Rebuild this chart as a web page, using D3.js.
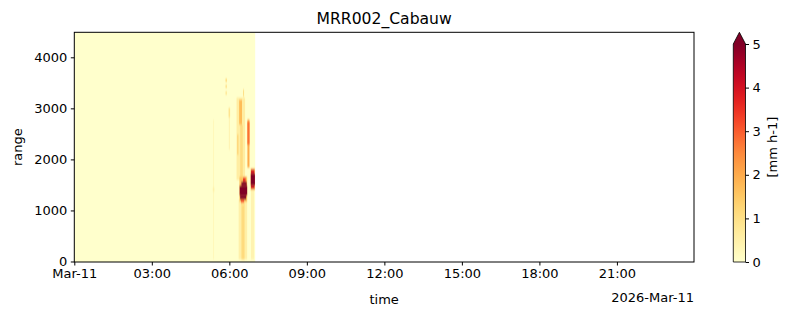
<!DOCTYPE html>
<html><head><meta charset="utf-8">
<script src="https://cdn.jsdelivr.net/npm/d3@7"></script>
<style>body{margin:0;background:#fff}text{font-family:"DejaVu Sans",sans-serif}</style>
</head><body>
<svg id="c" width="792" height="316"></svg>
<script>
// ---- data ----
const chartTitle = "MRR002_Cabauw";
const dayStart = new Date(2026, 2, 11, 0, 0);
const dayEnd = new Date(2026, 2, 11, 23, 59);
const validHours = [0, 7.0];            // period with measurements (value 0 = no rain)
const rangeExtent = [-10, 4490];        // metres
const xTickHours = [0, 3, 6, 9, 12, 15, 18, 21];
const xTickLabels = ["Mar-11", "03:00", "06:00", "09:00", "12:00", "15:00", "18:00", "21:00"];
const yTicks = [0, 1000, 2000, 3000, 4000];
const cbTicks = [0, 1, 2, 3, 4, 5];
const cbLimits = [0, 5];
// precipitation cells: [hourStart, hourEnd, rangeBottom (m), rangeTop (m), rain rate mm/h]
const rainCells = [
  [5.37, 5.41, 40, 2780, 0.25],
  [5.36, 5.42, 1370, 1450, 0.5],
  [5.85, 5.91, 3520, 3580, 1.2],
  [5.85, 5.91, 3400, 3460, 1.0],
  [5.85, 5.91, 3270, 3330, 0.9],
  [5.98, 6.02, 2190, 2820, 0.4],
  [5.97, 6.03, 2820, 3010, 0.9],
  [6.28, 6.61, 1600, 3210, 0.6],
  [6.36, 6.69, 40, 1210, 0.5],
  [6.45, 6.61, 40, 1210, 0.9],
  [6.50, 6.56, 40, 1100, 1.2],
  [6.38, 6.49, 2680, 3170, 1.7],
  [6.42, 6.52, 1650, 2680, 1.1],
  [6.31, 6.35, 2090, 2490, 1.4],
  [6.53, 6.57, 3230, 3370, 1.0],
  [6.70, 6.78, 1840, 2780, 2.0],
  [6.70, 6.78, 2290, 2740, 2.8],
  [6.39, 6.69, 1170, 1660, 1.6],
  [6.53, 6.63, 1565, 1645, 3.5],
  [6.47, 6.67, 1487, 1565, 5.5],
  [6.40, 6.69, 1290, 1487, 6.0],
  [6.42, 6.65, 1213, 1290, 5.5],
  [6.45, 6.57, 1150, 1213, 3.0],
  [6.84, 6.96, 40, 1410, 0.4],
  [6.82, 6.99, 1400, 1820, 1.5],
  [6.84, 6.97, 1722, 1800, 4.0],
  [6.83, 6.99, 1487, 1722, 6.0],
  [6.84, 6.97, 1420, 1487, 4.0]
];

// ---- drawing ----
const svg = d3.select("#c");
const M = {l: 74.3, r: 694, t: 32.3, b: 262};
const hr = h => new Date(dayStart.getTime() + h * 3600e3);
const x = d3.scaleTime().domain([dayStart, dayEnd]).range([M.l, M.r]);
const y = d3.scaleLinear().domain(rangeExtent).range([M.b, M.t]);
const color = v => d3.interpolateYlOrRd(Math.max(0, Math.min(1, (v - cbLimits[0]) / (cbLimits[1] - cbLimits[0]))));

const defs = svg.append("defs");
defs.append("clipPath").attr("id", "pc").append("rect")
  .attr("x", M.l).attr("y", M.t).attr("width", M.r - M.l).attr("height", M.b - M.t);
defs.append("clipPath").attr("id", "vc").append("rect")
  .attr("x", x(hr(validHours[0]))).attr("y", M.t).attr("width", x(hr(validHours[1])) - x(hr(validHours[0]))).attr("height", M.b - M.t);
defs.append("filter").attr("id", "bl").attr("x", "-20%").attr("y", "-5%").attr("width", "140%").attr("height", "110%")
  .append("feGaussianBlur").attr("stdDeviation", "0.7 0.9");
const g = svg.append("g").attr("clip-path", "url(#pc)");
g.append("rect").attr("x", x(hr(validHours[0]))).attr("width", x(hr(validHours[1])) - x(hr(validHours[0])))
  .attr("y", y(rangeExtent[1])).attr("height", y(rangeExtent[0]) - y(rangeExtent[1])).attr("fill", color(0));
g.append("g").attr("clip-path", "url(#vc)").append("g").attr("filter", "url(#bl)")
  .selectAll("rect.cell").data(rainCells).join("rect").attr("class", "cell")
  .attr("x", d => x(hr(d[0]))).attr("width", d => x(hr(d[1])) - x(hr(d[0])))
  .attr("y", d => y(d[3])).attr("height", d => y(d[2]) - y(d[3]))
  .attr("fill", d => color(d[4]));

svg.append("rect").attr("x", M.l).attr("y", M.t).attr("width", M.r - M.l).attr("height", M.b - M.t)
  .attr("fill", "none").attr("stroke", "#000").attr("stroke-width", 1);

const fs = 13;
// x axis
const xa = svg.append("g").attr("transform", `translate(0,${M.b})`)
  .call(d3.axisBottom(x).tickValues(xTickHours.map(hr)).tickSize(3.5).tickPadding(3.5)
    .tickFormat((d, i) => xTickLabels[i]));
xa.select(".domain").remove();
xa.selectAll("text").attr("font-size", fs).attr("fill", "#000").attr("font-family", "DejaVu Sans");
xa.selectAll("line").attr("stroke", "#000");
// y axis
const ya = svg.append("g").attr("transform", `translate(${M.l},0)`)
  .call(d3.axisLeft(y).tickValues(yTicks).tickSize(3.5).tickPadding(3.5).tickFormat(d3.format("d")));
ya.select(".domain").remove();
ya.selectAll("text").attr("font-size", fs).attr("fill", "#000").attr("font-family", "DejaVu Sans");
ya.selectAll("line").attr("stroke", "#000");

svg.append("text").attr("x", (M.l + M.r) / 2).attr("y", 24).attr("text-anchor", "middle")
  .attr("font-size", 15.6).text(chartTitle);
svg.append("text").attr("x", (M.l + M.r) / 2).attr("y", 304).attr("text-anchor", "middle")
  .attr("font-size", fs).text("time");
svg.append("text").attr("x", M.r).attr("y", 301.5).attr("text-anchor", "end")
  .attr("font-size", fs).text("2026-Mar-11");
svg.append("text").attr("transform", `translate(22,${(M.t + M.b) / 2}) rotate(-90)`).attr("text-anchor", "middle")
  .attr("font-size", fs).text("range");

// colorbar
const cb = {x0: 733.3, x1: 745.5, top: 44, bottom: 262, tip: 32.3};
const cy = d3.scaleLinear().domain(cbLimits).range([cb.bottom, cb.top]);
const grad = defs.append("linearGradient").attr("id", "cbg")
  .attr("x1", 0).attr("x2", 0).attr("y1", 1).attr("y2", 0);
d3.range(0, 1.0001, 0.05).forEach(t => grad.append("stop").attr("offset", t).attr("stop-color", d3.interpolateYlOrRd(t)));
svg.append("rect").attr("x", cb.x0).attr("y", cb.top).attr("width", cb.x1 - cb.x0).attr("height", cb.bottom - cb.top)
  .attr("fill", "url(#cbg)");
svg.append("path").attr("d", `M${cb.x0},${cb.top}L${(cb.x0 + cb.x1) / 2},${cb.tip}L${cb.x1},${cb.top}Z`)
  .attr("fill", color(cbLimits[1] + 1));
svg.append("path").attr("d", `M${cb.x0},${cb.bottom}L${cb.x0},${cb.top}L${(cb.x0 + cb.x1) / 2},${cb.tip}L${cb.x1},${cb.top}L${cb.x1},${cb.bottom}Z`)
  .attr("fill", "none").attr("stroke", "#000").attr("stroke-width", 0.8);
const ca = svg.append("g").attr("transform", `translate(${cb.x1},0)`)
  .call(d3.axisRight(cy).tickValues(cbTicks).tickSize(3.5).tickPadding(3.5).tickFormat(d3.format("d")));
ca.select(".domain").remove();
ca.selectAll("text").attr("font-size", fs).attr("fill", "#000").attr("font-family", "DejaVu Sans");
ca.selectAll("line").attr("stroke", "#000");
svg.append("text").attr("transform", `translate(777,${(cb.tip + cb.bottom) / 2}) rotate(-90)`).attr("text-anchor", "middle")
  .attr("font-size", fs).text("[mm h-1]");
</script>
</body></html>
